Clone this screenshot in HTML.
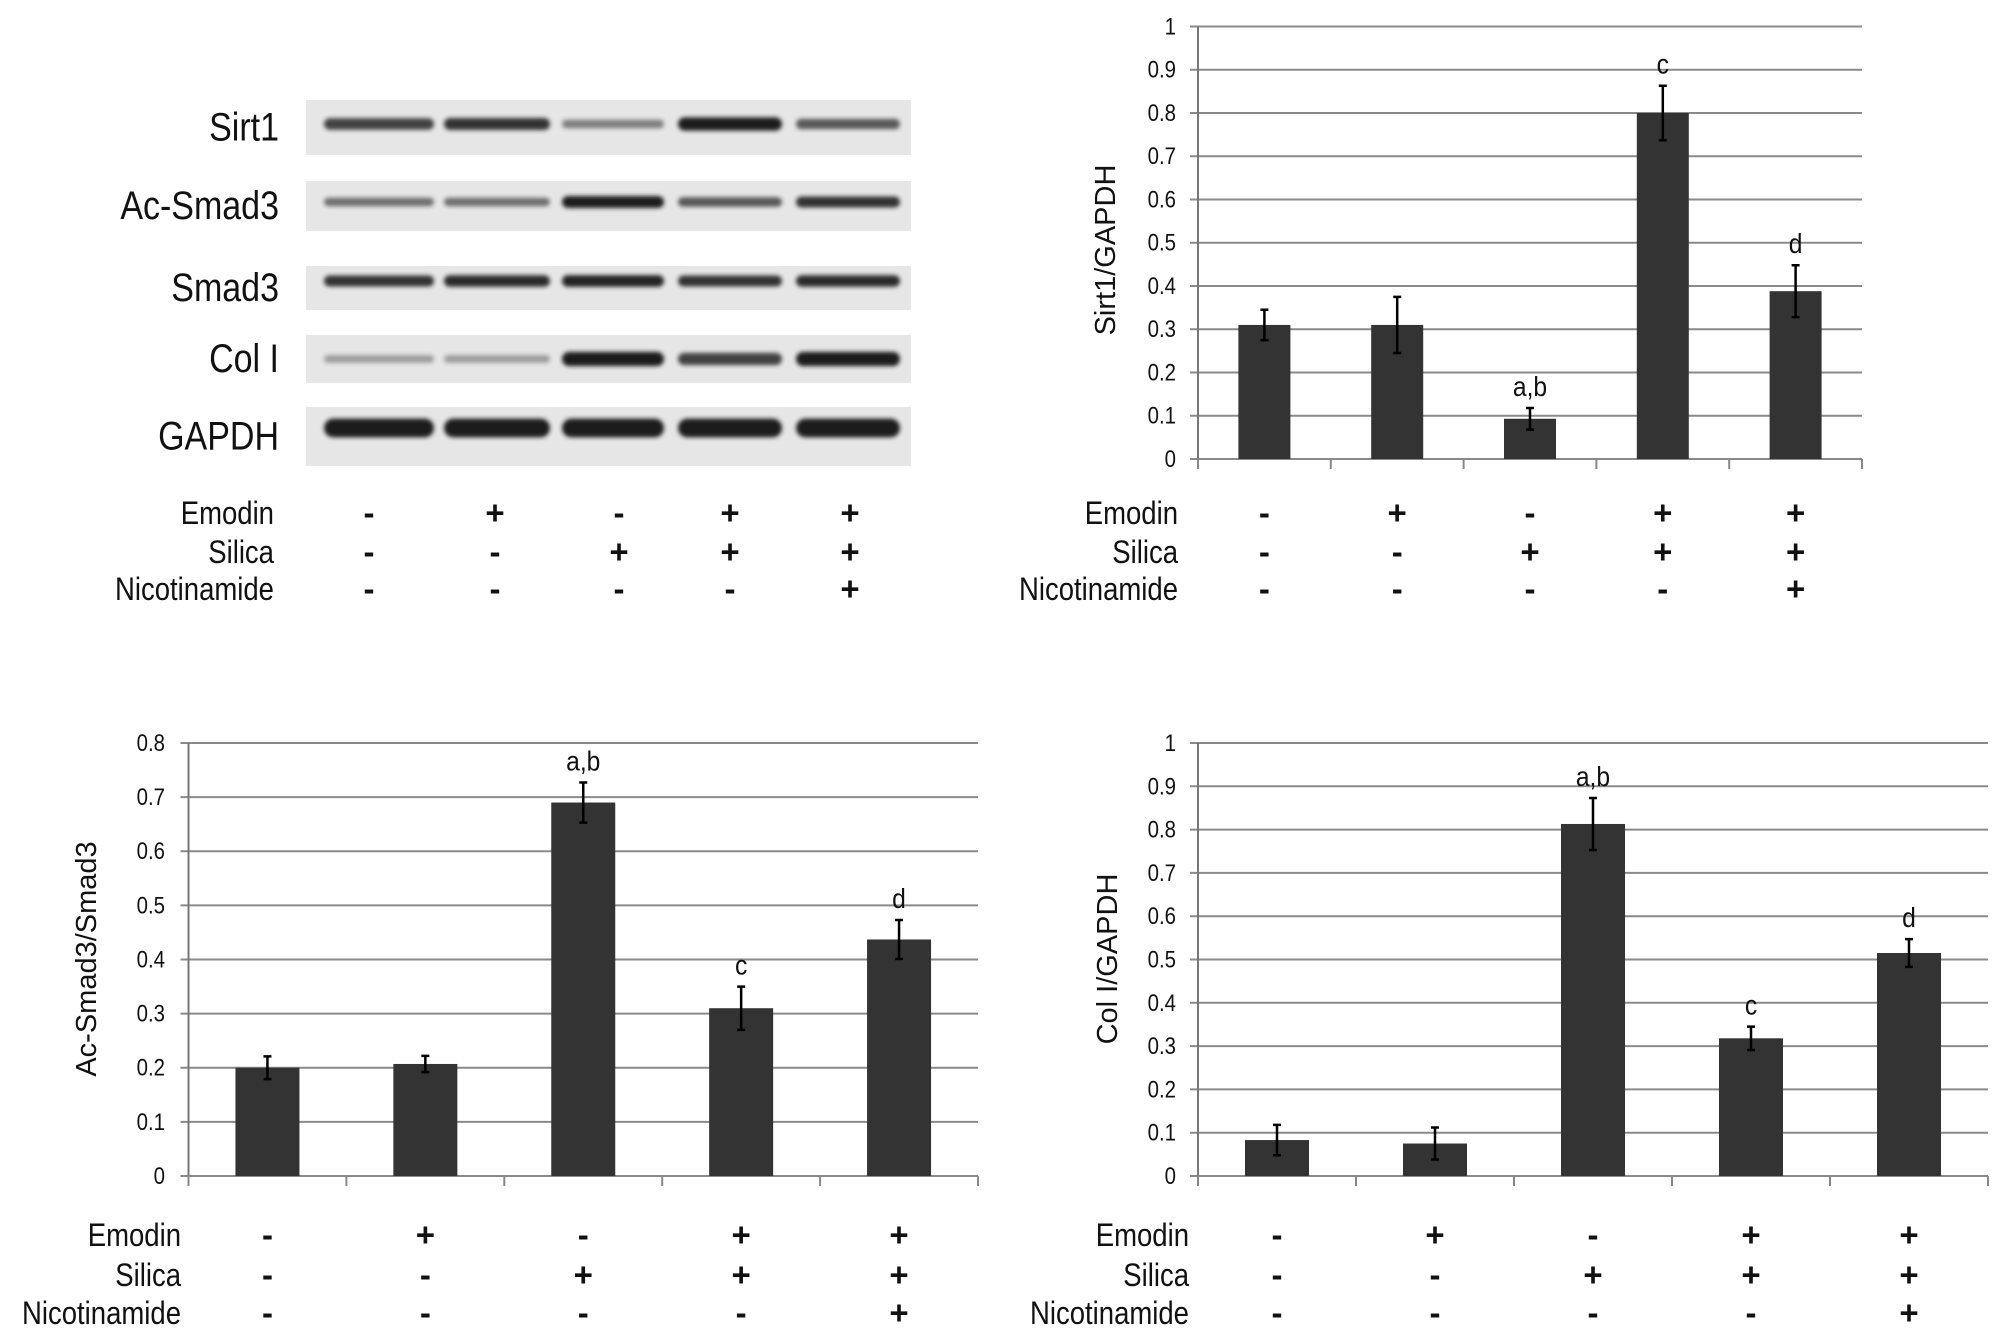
<!DOCTYPE html>
<html><head><meta charset="utf-8"><style>
html,body{margin:0;padding:0;background:#fff;}
svg{display:block;font-family:"Liberation Sans",sans-serif;}
</style></head><body>
<svg id="fig" width="2008" height="1343" viewBox="0 0 2008 1343" xmlns="http://www.w3.org/2000/svg">
<defs><filter id="blur" x="-10%" y="-100%" width="120%" height="300%"><feGaussianBlur stdDeviation="2.2"/></filter></defs>
<g id="blot"></g>
<g id="c1"></g>
<g id="c2"></g>
<g id="c3"></g>
</svg>
<script>
const NS='http://www.w3.org/2000/svg';
const groups=['Emodin','Silica','Nicotinamide'];
const emodin=['-','+','-','+','+'];
const silica=['-','-','+','+','+'];
const nicotinamide=['-','-','-','-','+'];
const sirt1Values=[0.31,0.31,0.093,0.80,0.388];
const sirt1Errors=[0.035,0.065,0.025,0.063,0.06];
const sirt1Letters=['','','a,b','c','d'];
const acSmadValues=[0.20,0.207,0.69,0.31,0.437];
const acSmadErrors=[0.021,0.015,0.037,0.04,0.036];
const acSmadLetters=['','','a,b','c','d'];
const colValues=[0.083,0.075,0.813,0.318,0.515];
const colErrors=[0.035,0.037,0.06,0.027,0.032];
const colLetters=['','','a,b','c','d'];
const ticks10=['0','0.1','0.2','0.3','0.4','0.5','0.6','0.7','0.8','0.9','1'];
const ticks08=['0','0.1','0.2','0.3','0.4','0.5','0.6','0.7','0.8'];
const blotProteins=['Sirt1','Ac-Smad3','Smad3','Col I','GAPDH'];
const sirt1Band=[0.75,0.85,0.35,1.0,0.6];
const acSmadBand=[0.45,0.45,1.0,0.6,0.85];
const smadBand=[0.85,0.9,0.95,0.85,0.9];
const colBand=[0.15,0.15,1.0,0.75,1.0];
const gapdhBand=[1.0,1.0,1.0,1.0,1.0];

function el(tag,attrs,parent){const e=document.createElementNS(NS,tag);for(const k in attrs)e.setAttribute(k,attrs[k]);parent.appendChild(e);return e;}
function txt(parent,x,y,s,size,anchor,extra,sx){
  sx=sx||1;
  const a=Object.assign({x:x/sx,y:y,'font-size':size,'text-anchor':anchor||'middle',fill:'#111'},extra||{});
  if(sx!==1)a.transform=`scale(${sx},1)`;
  const t=el('text',a,parent);t.textContent=s;return t;}

function conditionRows(g,labelRight,xs,ys,size){
  const rows=[emodin,silica,nicotinamide];
  groups.forEach((name,r)=>{
    const t=txt(g,labelRight,ys[r],name,size,'end',{},0.86);
    
    
    rows[r].forEach((s,i)=>{
      const m=txt(g,xs[i],ys[r],s==='+'?'+':'-',size+1,'middle',{'font-weight':'bold'});
      
      
    });
  });
}

function chart(g,o){
  const n=o.values.length, cw=(o.x1-o.x0)/n;
  const y=v=>o.yb-(v/o.max)*(o.yb-o.yt);
  const cx=i=>o.x0+cw*(i+0.5);
  o.ticks.forEach(tk=>{
    const v=parseFloat(tk), yy=y(v);
    const gl=el('line',{x1:o.x0-8,x2:o.x1,y1:yy,y2:yy,stroke:'#8a8a8a','stroke-width':2},g);
    
    
    const t=txt(g,o.labR,yy+8,tk,24,'end',{},0.85);
    
    
  });
  const ax=el('line',{x1:o.x0,x2:o.x0,y1:o.yt,y2:o.yb+10,stroke:'#777','stroke-width':2},g);
  
  
  for(let i=0;i<=n;i++){
    const tl=el('line',{x1:o.x0+cw*i,x2:o.x0+cw*i,y1:o.yb,y2:o.yb+10,stroke:'#888','stroke-width':2},g);
    
    
  }
  o.values.forEach((v,i)=>{
    const b=el('rect',{x:cx(i)-o.bw/2,y:y(v),width:o.bw,height:o.yb-y(v),fill:'#333333'},g);
    
    
    const e=o.errors[i], yt=y(v+e), ybb=y(v-e);
    const eb=el('path',{d:`M${cx(i)} ${yt}V${ybb}M${cx(i)-4} ${yt}h8M${cx(i)-4} ${ybb}h8`,stroke:'#000','stroke-width':2.5,fill:'none'},g);
    
    
    if(o.letters[i]){
      const t=txt(g,cx(i),yt-12,o.letters[i],28,'middle',{},0.88);
      
      
    }
  });
  const ty=txt(g,o.titleX,o.titleY,o.title,29,'middle',{transform:`rotate(-90 ${o.titleX} ${o.titleY})`});
  
  
  conditionRows(g,o.rowR,[0,1,2,3,4].map(cx),o.rowY,32);
}

chart(document.getElementById('c1'),{values:sirt1Values,errors:sirt1Errors,letters:sirt1Letters,ticks:ticks10,max:1,
  x0:1198,x1:1862,yt:26.5,yb:459,bw:52,labR:1176,title:'Sirt1/GAPDH',titleX:1115,titleY:250,rowR:1178,rowY:[524,563,600]});
chart(document.getElementById('c2'),{values:acSmadValues,errors:acSmadErrors,letters:acSmadLetters,ticks:ticks08,max:0.8,
  x0:188.5,x1:978,yt:743,yb:1176,bw:64,labR:165,title:'Ac-Smad3/Smad3',titleX:96,titleY:959,rowR:181,rowY:[1246,1286,1324]});
chart(document.getElementById('c3'),{values:colValues,errors:colErrors,letters:colLetters,ticks:ticks10,max:1,
  x0:1198,x1:1988,yt:743,yb:1176,bw:64,labR:1176,title:'Col I/GAPDH',titleX:1117,titleY:959,rowR:1189,rowY:[1246,1286,1324]});

const blot=document.getElementById('blot');
const strips=[[100,155],[181,231],[266,310],[335,383],[407,466]];
const bandY=[124,202,281,359,428];
const bandH=[12,11,11,13,17];
const lanes=[[324,434],[444,550],[562,664],[678,782],[796,900]];
const intens=[sirt1Band,acSmadBand,smadBand,colBand,gapdhBand];
strips.forEach((s,r)=>{
  const st=el('rect',{x:306,y:s[0],width:605,height:s[1]-s[0],fill:'#e6e6e6'},blot);
  
  
  const lab=txt(blot,279,(s[0]+s[1])/2+13,blotProteins[r],40,'end',{},0.85);
  
  
  intens[r].forEach((v,i)=>{
    const l=lanes[i], h=bandH[r]*(0.5+0.6*v);
    const b=el('rect',{x:l[0],y:bandY[r]-h/2,width:l[1]-l[0],height:h,rx:h/2,fill:'#1a1a1a',opacity:0.25+0.75*v,filter:'url(#blur)'},blot);
    
    
  });
});
conditionRows(blot,274,[369,495,619,730,850],[524,563,600],32);
</script>
</body></html>
